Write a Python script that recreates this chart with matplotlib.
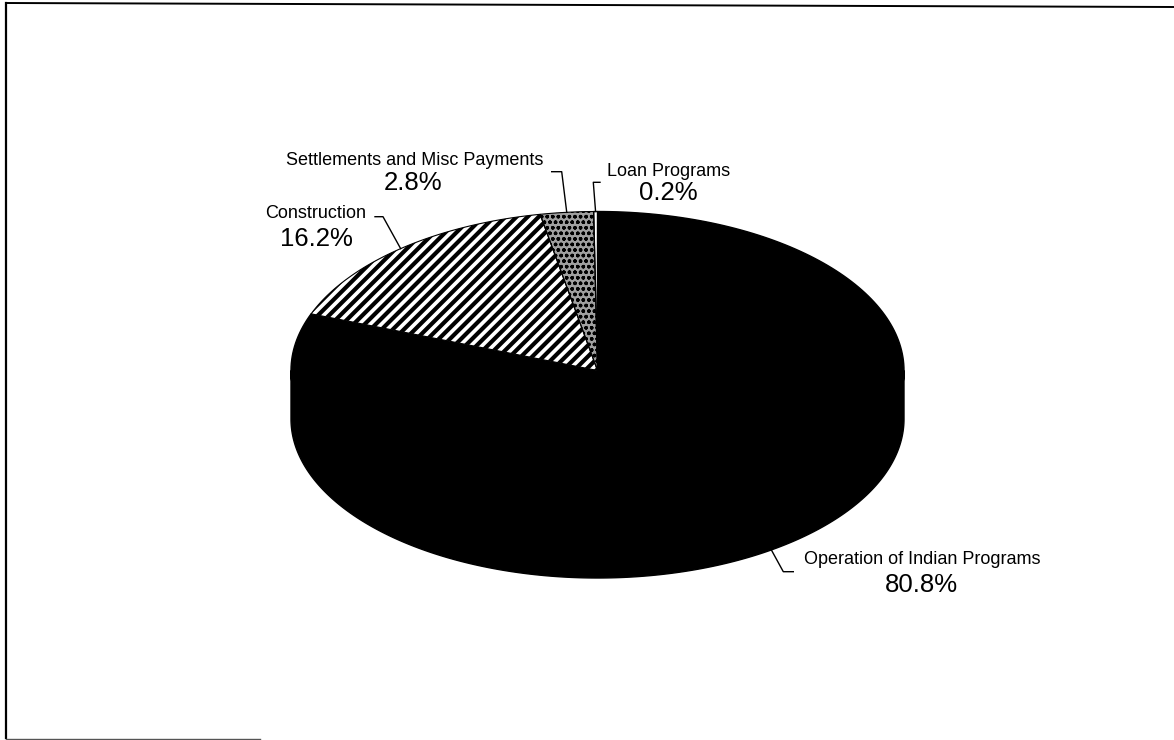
import numpy as np
import matplotlib
matplotlib.use("Agg")
import matplotlib.pyplot as plt
from matplotlib.patches import Polygon
from matplotlib.lines import Line2D

# ---------------- data ----------------
categories = ["Operation of Indian Programs", "Construction",
              "Settlements and Misc Payments", "Loan Programs"]
shares = [80.8, 16.2, 2.8, 0.2]
pct_labels = ["80.8%", "16.2%", "2.8%", "0.2%"]

# ---------------- styles / layout ----------------
face_colors = ["black", "white", "#a0a0a0", "white"]
hatches = [None, "///", "ooo", None]
hatch_widths = [1.0, 3.0, 1.0, 1.0]
side_colors = ["black", "black", "#404040", "#404040"]

plt.rcParams["font.family"] = ["Liberation Sans", "DejaVu Sans"]

W, H = 1174, 740
cx, cy = 597.5, 370.5      # centre of top face (px)
rx, ry = 306.5, 159.0      # radii of top ellipse
depth = 48.5               # thickness of the pie

# label layout: (name_x, name_baseline, pct_x, pct_baseline, elbow points)
label_layout = [
    (922.5, 563.5, 921.7, 591.5, [(793.3, 571.7), (783.3, 571.7)]),
    (316.0, 218.3, 316.0, 245.5, [(375.0, 216.7), (383.0, 216.7)]),
    (415.0, 165.0, 413.0, 190.0, [(551.7, 171.7), (561.7, 171.7)]),
    (669.0, 176.5, 668.0, 200.0, [(600.0, 182.3), (593.3, 182.3)]),
]
name_size = 13.0
pct_size = 18.5

fig = plt.figure(figsize=(W / 100, H / 100), dpi=100)
ax = fig.add_axes([0, 0, 1, 1])
ax.set_xlim(0, W)
ax.set_ylim(H, 0)
ax.axis("off")


def pt(theta_deg, dy=0.0, shrink_y=0.0):
    t = np.radians(theta_deg)
    return cx + rx * np.cos(t), cy - (ry - shrink_y) * np.sin(t) + dy


def arc(t0, t1, dy=0.0, shrink_y=0.0, n=240):
    ts = np.linspace(t0, t1, n)
    return [pt(t, dy, shrink_y) for t in ts]


total = float(sum(shares))
starts, ends = [], []
acc = 0.0
for s in shares:
    a0 = 90 - 360 * acc / total
    acc += s
    a1 = 90 - 360 * acc / total
    starts.append(a0)
    ends.append(a1)

# side walls (front half only: angles where sin < 0)
for i in range(len(shares)):
    lo, hi = ends[i], starts[i]
    for k in range(-2, 3):
        f0, f1 = -180 + 360 * k, 0 + 360 * k
        a, b = max(lo, f0), min(hi, f1)
        if b > a:
            top = arc(a, b, shrink_y=4)
            bot = arc(b, a, dy=depth)
            ax.add_patch(Polygon(top + bot, closed=True, facecolor=side_colors[i],
                                 edgecolor=side_colors[i], lw=1.0, zorder=1))

# top faces
for i in range(len(shares)):
    pts = [(cx, cy)] + arc(starts[i], ends[i])
    if hatches[i]:
        with plt.rc_context({"hatch.linewidth": hatch_widths[i]}):
            p = Polygon(pts, closed=True, facecolor=face_colors[i],
                        edgecolor="black", hatch=hatches[i], lw=0, zorder=2)
            ax.add_patch(p)
            if hasattr(p, "set_hatch_linewidth"):
                p.set_hatch_linewidth(hatch_widths[i])
        ax.add_patch(Polygon(pts, closed=True, fill=False,
                             edgecolor="black", lw=0.8, zorder=3))
    else:
        ax.add_patch(Polygon(pts, closed=True, facecolor=face_colors[i],
                             edgecolor="black", lw=1.0, zorder=2))

# labels and leader lines
for i, (nx, ny, px, py, elbows) in enumerate(label_layout):
    ax.text(nx, ny, categories[i], ha="center", va="baseline", fontsize=name_size,
            color="black", zorder=5)
    ax.text(px, py, pct_labels[i], ha="center", va="baseline", fontsize=pct_size,
            color="black", zorder=5)
    mid = (starts[i] + ends[i]) / 2
    s = np.sin(np.radians(mid))
    end = pt(mid, depth if s < 0 else 0.0)
    xs = [e[0] for e in elbows] + [end[0]]
    ys = [e[1] for e in elbows] + [end[1]]
    ax.plot(xs, ys, color="black", lw=1.0, zorder=4)

# scanned page frame
fig.add_artist(Line2D([6 / W, 6 / W], [1 - 3 / H, 1 - 738 / H], color="black", lw=1.6,
                      transform=fig.transFigure))
fig.add_artist(Line2D([6 / W, 1.0], [1 - 3 / H, 1 - 7 / H], color="black", lw=1.4,
                      transform=fig.transFigure))
fig.add_artist(Line2D([6 / W, 260 / W], [1 - 738.5 / H, 1 - 738.5 / H], color="#555555",
                      lw=1.0, transform=fig.transFigure))

fig.savefig("out.png", dpi=100, facecolor="white")
